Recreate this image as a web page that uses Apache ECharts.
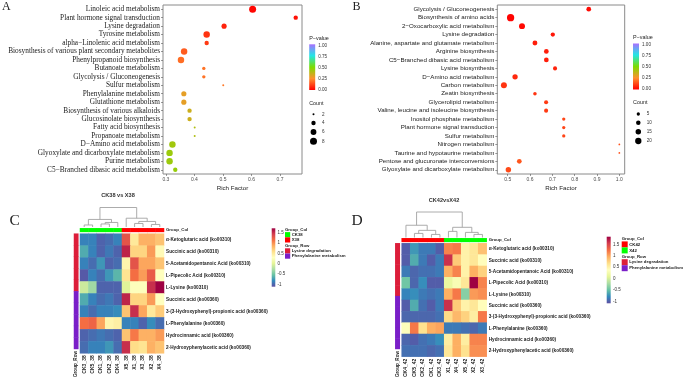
<!DOCTYPE html>
<html><head><meta charset="utf-8">
<script src="https://cdn.jsdelivr.net/npm/echarts@6/dist/echarts.min.js"></script>
<style>html,body{margin:0;padding:0;background:#fff}#c{width:685px;height:380px}</style>
</head><body><div id="c"></div>
<script>
// ---------------- Panel A (bubble) ----------------
const pathwaysA = ['Linoleic acid metabolism','Plant hormone signal transduction','Lysine degradation','Tyrosine metabolism','alpha\u2212Linolenic acid metabolism','Biosynthesis of various plant secondary metabolites','Phenylpropanoid biosynthesis','Butanoate metabolism','Glycolysis / Gluconeogenesis','Sulfur metabolism','Phenylalanine metabolism','Glutathione metabolism','Biosynthesis of various alkaloids','Glucosinolate biosynthesis','Fatty acid biosynthesis','Propanoate metabolism','D\u2212Amino acid metabolism','Glyoxylate and dicarboxylate metabolism','Purine metabolism','C5\u2212Branched dibasic acid metabolism'];
const richA  = [0.604,0.755,0.504,0.443,0.443,0.364,0.353,0.433,0.433,0.501,0.363,0.363,0.383,0.383,0.401,0.401,0.323,0.313,0.313,0.333];
const pvalA  = [0.01,0.03,0.06,0.09,0.10,0.16,0.19,0.20,0.20,0.21,0.30,0.30,0.35,0.35,0.40,0.40,0.43,0.44,0.44,0.45];
const countA = [8,4,5,7,4,7,7,3,3,2,5,5,4,4,2,2,7,7,7,4];
const richTicksA = [0.3,0.4,0.5,0.6,0.7];
const countLegendA = [2,4,6,8];

// ---------------- Panel B (bubble) ----------------
const pathwaysB = ['Glycolysis / Gluconeogenesis','Biosynthesis of amino acids','2\u2212Oxocarboxylic acid metabolism','Lysine degradation','Alanine, aspartate and glutamate metabolism','Arginine biosynthesis','C5\u2212Branched dibasic acid metabolism','Lysine biosynthesis','D\u2212Amino acid metabolism','Carbon metabolism','Zeatin biosynthesis','Glycerolipid metabolism','Valine, leucine and isoleucine biosynthesis','Inositol phosphate metabolism','Plant hormone signal transduction','Sulfur metabolism','Nitrogen metabolism','Taurine and hypotaurine metabolism','Pentose and glucuronate interconversions','Glyoxylate and dicarboxylate metabolism'];
const richB  = [0.863,0.513,0.564,0.702,0.622,0.673,0.673,0.712,0.533,0.483,0.622,0.672,0.672,0.751,0.751,0.751,1.0,1.0,0.552,0.503];
const pvalB  = [0.02,0.005,0.015,0.04,0.05,0.05,0.05,0.06,0.07,0.09,0.09,0.10,0.10,0.12,0.12,0.12,0.14,0.14,0.15,0.13];
const countB = [11,27,18,9,12,11,11,8,14,18,6,8,8,5,5,5,1,1,11,15];
const richTicksB = [0.5,0.6,0.7,0.8,0.9,1.0];
const countLegendB = [5,10,15,20];
const pTicks = [1.00,0.75,0.50,0.25,0.00];

// ---------------- Heatmaps C / D ----------------
const metabolites = ['\u03b1-Ketoglutaric acid (ko00310)','Succinic acid (ko00310)','5-Acetamidopentanoic Acid (ko00310)','L-Pipecolic Acid (ko00310)','L-Lysine (ko00310)','Succinic acid (ko00360)','3-(3-Hydroxyphenyl)-propionic acid (ko00360)','L-Phenylalanine (ko00360)','Hydrocinnamic acid (ko00360)','2-Hydroxyphenylacetic acid (ko00360)'];
const rowGroup = [0,0,0,0,0,1,1,1,1,1];
const rowGroupNames = ['Lysine degradation','Phenylalanine metabolism'];

const titleC = 'CK38 vs X38';
const colsC = ['CK3_38','CK5_38','CK1_38','CK2_38','CK4_38','X5_38','X1_38','X3_38','X2_38','X4_38'];
const colGroupC = [0,0,0,0,0,1,1,1,1,1];
const colGroupNamesC = ['CK38','X38'];
const valuesC = [
  [-0.85,-0.85,-1.00,-0.95,-0.85, 1.30,0.50,0.85,0.85,0.75],
  [-0.65,-0.85,-1.00,-0.90,-1.00, 1.55,0.65,0.65,0.95,0.35],
  [-0.85,-0.95,-0.75,-1.00,-0.95, 0.40,1.30,0.90,0.90,0.75],
  [-1.05,-0.85,-0.95,-0.75,-0.60, 0.55,1.15,0.95,1.25,0.30],
  [-0.10,-0.30,-1.00,-1.00,-1.00, 0.00,0.28,0.28,1.50,1.75],
  [-0.65,-0.85,-0.95,-0.90,-1.00, 1.55,0.65,0.65,0.95,0.30],
  [-0.85,-0.95,-0.85,-0.85,-0.80, 0.75,1.50,0.90,0.50,0.70],
  [ 1.15, 1.20, 0.90, 0.40, 0.45,-0.85,-0.85,-1.00,-0.80,-0.95],
  [-1.00,-0.95,-0.90,-0.95,-1.00, 0.75,1.10,0.85,0.85,0.95],
  [-0.95,-0.85,-0.85,-0.75,-0.95, 1.50,0.60,0.55,0.85,0.75]
];
const scaleRangeC = [-1.1, 1.71];
const dendroMergeC  = [[-1,-2],[-3,-4],[2,-5],[1,3],[-7,-8],[-9,-10],[5,6],[-6,7],[4,8]];
const dendroHeightC = [2.0,3.0,4.5,7.5,3.5,2.5,5.5,8.7,19.3];

const titleD = 'CK42vsX42';
const colsD = ['CK4_42','CK5_42','CK2_42','CK1_42','CK3_42','X1_42','X4_42','X5_42','X2_42','X3_42'];
const colGroupD = [0,0,0,0,0,1,1,1,1,1];
const colGroupNamesD = ['CK42','X42'];
const valuesD = [
  [-1.00,-0.70,-0.85,-0.85,-1.00, 1.15,1.20,0.50,0.60,0.85],
  [-1.00,-0.60,-0.85,-1.00,-0.85, 1.60,0.80,0.50,0.60,0.40],
  [-0.85,-0.95,-0.90,-0.90,-0.85, 0.95,1.15,0.50,0.95,0.75],
  [-0.45,-0.95,-0.75,-1.00,-1.00, 0.15,0.30,0.60,1.85,1.15],
  [-0.80,-0.75,-0.85,-0.90,-0.85, 0.95,1.20,-0.35,1.05,1.10],
  [-1.00,-0.60,-0.90,-1.00,-0.85, 1.60,0.80,0.50,0.60,0.40],
  [-0.95,-0.95,-0.95,-0.95,-0.90, 0.70,0.90,0.75,0.55,1.20],
  [ 0.35, 1.20, 0.65, 0.95, 1.00,-0.85,-0.85,-0.90,-0.95,-0.85],
  [-0.95,-1.00,-0.90,-0.85,-0.75, 0.55,0.95,0.55,1.15,1.15],
  [-0.90,-0.90,-0.90,-0.95,-0.90, 0.60,0.95,0.65,1.10,1.10]
];
const scaleRangeD = [-1.07, 1.83];
const dendroMergeD  = [[-2,-3],[-4,-5],[1,2],[-1,3],[-6,-7],[-9,-10],[-8,6],[5,7],[4,8]];
const dendroHeightD = [4.0,3.0,7.0,12.0,6.0,3.0,5.0,10.0,25.0];
const scaleTicks = [1.5,1,0.5,0,-0.5,-1];

// ---------------- styling ----------------
const SERIF = '"Liberation Serif", "Times New Roman", serif';
const SANS = '"Liberation Sans", Arial, sans-serif';
const pColors = ['#FF0000','#FF9030','#7CDC00','#22E6E6','#A870FF'];
const spectral = ['#5E4FA2','#3288BD','#66C2A5','#ABDDA4','#E6F598','#FFFFBF','#FEE08B','#FDAE61','#F46D43','#D53E4F','#9E0142'];
const colGroupColorsC = ['#00FF00','#FF0000'];
const colGroupColorsD = ['#FF0000','#00FF00'];
const rowGroupColors = ['#DC1E3A','#7A1FC8'];

function sizeA(c){ return Math.sqrt(Math.max(7.5*c - 11, 3)); }
function sizeB(c){ return Math.sqrt(1.92*c + 1.2); }

function buildDendro(merge, height){
  const nx = [], nh = [], segs = [];
  const pos = id => id < 0 ? [(-id) - 0.5, 0] : [nx[id-1], nh[id-1]];
  merge.forEach((m,k) => {
    const a = pos(m[0]), b = pos(m[1]), h = height[k];
    segs.push([a[0], b[0], a[1], b[1], h]);
    nx.push((a[0]+b[0])/2); nh.push(h);
  });
  return segs;
}
function dendroRender(params, api){
  const p1 = api.coord([api.value(0), api.value(2)]);
  const p2 = api.coord([api.value(0), api.value(4)]);
  const p3 = api.coord([api.value(1), api.value(4)]);
  const p4 = api.coord([api.value(1), api.value(3)]);
  return {type:'polyline', shape:{points:[p1,p2,p3,p4]}, style:{stroke:'#a3a3a3', lineWidth:0.9, fill:null}};
}
function cellRender(colors){
  return function(params, api){
    const c = api.coord([api.value(0), api.value(1)]);
    const s = api.size([1,1]);
    return {type:'rect', shape:{x:c[0]-s[0]/2-0.25, y:c[1]-s[1]/2-0.25, width:s[0]+0.5, height:s[1]+0.5}, style:{fill:colors[api.value(2)]}};
  };
}
function heatRender(params, api){
  const c = api.coord([api.value(0), api.value(1)]);
  const s = api.size([1,1]);
  return {type:'rect', shape:{x:c[0]-s[0]/2-0.25, y:c[1]-s[1]/2-0.25, width:s[0]+0.5, height:s[1]+0.5}, style:{fill:api.visual('color')}};
}
function heatData(vals){
  const d = [];
  vals.forEach((row,r) => row.forEach((v,c) => d.push([c, r, v])));
  return d;
}

const chart = echarts.init(document.getElementById('c'), null, {width:685, height:380});

const grids = [
  {left:163, top:5, width:139, height:169, show:true, borderColor:'#8a8a8a', borderWidth:1},
  {left:497.3, top:5, width:127.4, height:169, show:true, borderColor:'#8a8a8a', borderWidth:1},
  {left:80, top:233.7, width:84, height:119.6},
  {left:80, top:207.5, width:84, height:19.5},
  {left:80, top:228.3, width:84, height:3.6},
  {left:74, top:233.7, width:4.3, height:119.6},
  {left:401.7, top:243.3, width:85, height:118.4},
  {left:401.7, top:212, width:85, height:25.5},
  {left:401.7, top:238.3, width:85, height:3.6},
  {left:395.3, top:243.3, width:4.5, height:118.4}
];

function bubbleX(gi, min, max, ticks){
  return {type:'value', gridIndex:gi, min:min, max:max,
    axisLine:{show:false}, splitLine:{show:false},
    axisTick:{show:true, length:2, lineStyle:{color:'#555', width:0.6}, customValues:ticks},
    axisLabel:{fontSize:5, color:'#4d4d4d', margin:3, fontFamily:SANS, customValues:ticks, formatter:v=>v.toFixed(1)},
    name:'Rich Factor', nameLocation:'middle', nameGap:11.5, nameTextStyle:{fontSize:6.2, color:'#222', fontFamily:SANS}};
}
function bubbleY(gi, names, font, size){
  return {type:'category', gridIndex:gi, data:names, inverse:true,
    axisLine:{show:false}, splitLine:{show:false},
    axisTick:{show:true, length:2, alignWithLabel:true, lineStyle:{color:'#555', width:0.6}},
    axisLabel:{interval:0, fontSize:size, color:'#1a1a1a', fontFamily:font, margin:3}};
}
const hidden = (gi, extra) => Object.assign({gridIndex:gi, show:false}, extra);

const xAxes = [
  bubbleX(0, 0.29, 0.777, richTicksA),
  bubbleX(1, 0.4534, 1.024, richTicksB),
  {type:'category', gridIndex:2, data:colsC, axisLine:{show:false}, axisTick:{show:false},
    axisLabel:{interval:0, rotate:90, fontSize:5, fontWeight:'bold', color:'#222', fontFamily:SANS, margin:2}},
  hidden(3, {type:'value', min:0, max:10}),
  hidden(4, {type:'category', data:colsC}),
  {type:'category', gridIndex:5, data:['Group_Row'], axisLine:{show:false}, axisTick:{show:false},
    axisLabel:{interval:0, rotate:90, fontSize:4.6, fontWeight:'bold', color:'#222', fontFamily:SANS, margin:2}},
  {type:'category', gridIndex:6, data:colsD, axisLine:{show:false}, axisTick:{show:false},
    axisLabel:{interval:0, rotate:90, fontSize:5, fontWeight:'bold', color:'#222', fontFamily:SANS, margin:2}},
  hidden(7, {type:'value', min:0, max:10}),
  hidden(8, {type:'category', data:colsD}),
  {type:'category', gridIndex:9, data:['Group_Row'], axisLine:{show:false}, axisTick:{show:false},
    axisLabel:{interval:0, rotate:90, fontSize:4.6, fontWeight:'bold', color:'#222', fontFamily:SANS, margin:2}}
];
const heatY = (gi) => ({type:'category', gridIndex:gi, data:metabolites, inverse:true, position:'right',
    axisLine:{show:false}, axisTick:{show:false},
    axisLabel:{interval:0, fontSize:4.7, fontWeight:'bold', color:'#222', fontFamily:SANS, margin:2}});
const yAxes = [
  bubbleY(0, pathwaysA, SERIF, 7.3),
  bubbleY(1, pathwaysB, SANS, 6.2),
  heatY(2),
  hidden(3, {type:'value', min:0, max:dendroHeightC[dendroHeightC.length-1]}),
  {type:'category', gridIndex:4, data:['Group_Col'], position:'right', axisLine:{show:false}, axisTick:{show:false},
    axisLabel:{fontSize:4.3, fontWeight:'bold', color:'#222', fontFamily:SANS, margin:2}},
  hidden(5, {type:'category', data:metabolites, inverse:true}),
  heatY(6),
  hidden(7, {type:'value', min:0, max:dendroHeightD[dendroHeightD.length-1]}),
  {type:'category', gridIndex:8, data:['Group_Col'], position:'right', axisLine:{show:false}, axisTick:{show:false},
    axisLabel:{fontSize:4.3, fontWeight:'bold', color:'#222', fontFamily:SANS, margin:2}},
  hidden(9, {type:'category', data:metabolites, inverse:true})
];

const series = [
  {type:'scatter', xAxisIndex:0, yAxisIndex:0, data:pathwaysA.map((p,i)=>[richA[i], i, pvalA[i], countA[i]]),
    symbolSize:v=>sizeA(v[3]), itemStyle:{opacity:1}},
  {type:'scatter', xAxisIndex:1, yAxisIndex:1, data:pathwaysB.map((p,i)=>[richB[i], i, pvalB[i], countB[i]]),
    symbolSize:v=>sizeB(v[3]), itemStyle:{opacity:1}},
  {type:'custom', xAxisIndex:2, yAxisIndex:2, data:heatData(valuesC), renderItem:heatRender, encode:{x:0, y:1}},
  {type:'custom', xAxisIndex:6, yAxisIndex:6, data:heatData(valuesD), renderItem:heatRender, encode:{x:0, y:1}},
  {type:'custom', xAxisIndex:3, yAxisIndex:3, data:buildDendro(dendroMergeC, dendroHeightC), renderItem:dendroRender, encode:{x:[0,1], y:[2,3,4]}, clip:false},
  {type:'custom', xAxisIndex:7, yAxisIndex:7, data:buildDendro(dendroMergeD, dendroHeightD), renderItem:dendroRender, encode:{x:[0,1], y:[2,3,4]}, clip:false},
  {type:'custom', xAxisIndex:4, yAxisIndex:4, data:colGroupC.map((g,i)=>[i,0,g]), renderItem:cellRender(colGroupColorsC)},
  {type:'custom', xAxisIndex:5, yAxisIndex:5, data:rowGroup.map((g,r)=>[0,r,g]), renderItem:cellRender(rowGroupColors)},
  {type:'custom', xAxisIndex:8, yAxisIndex:8, data:colGroupD.map((g,i)=>[i,0,g]), renderItem:cellRender(colGroupColorsD)},
  {type:'custom', xAxisIndex:9, yAxisIndex:9, data:rowGroup.map((g,r)=>[0,r,g]), renderItem:cellRender(rowGroupColors)}
];

const visualMap = [
  {type:'continuous', show:false, seriesIndex:0, dimension:2, min:0, max:1, inRange:{color:pColors}},
  {type:'continuous', show:false, seriesIndex:1, dimension:2, min:0, max:1, inRange:{color:pColors}},
  {type:'continuous', show:false, seriesIndex:2, dimension:2, min:scaleRangeC[0], max:scaleRangeC[1], inRange:{color:spectral}},
  {type:'continuous', show:false, seriesIndex:3, dimension:2, min:scaleRangeD[0], max:scaleRangeD[1], inRange:{color:spectral}}
];

const G = [];
const txt = (x,y,t,size,opt) => G.push(Object.assign({type:'text', x:x, y:y, silent:true,
  style:Object.assign({text:t, fontSize:size, fontFamily:SANS, fill:'#222', align:'left', verticalAlign:'middle'}, (opt||{}))}));
const grad = (stops) => new echarts.graphic.LinearGradient(0,0,0,1, stops.map((c,i)=>({offset:i/(stops.length-1), color:c})));

txt(2, 7, 'A', 12, {fontFamily:SERIF});
txt(352.5, 6.5, 'B', 12, {fontFamily:SERIF});
txt(9.5, 220.5, 'C', 15.5, {fontFamily:SERIF});
txt(351.5, 220.5, 'D', 15.5, {fontFamily:SERIF});
txt(118, 195, titleC, 5.6, {align:'center', fontWeight:'bold', fill:'#333'});
txt(444, 200, titleD, 5.6, {align:'center', fontWeight:'bold', fill:'#333'});

function pLegend(x, top, bottom, v1y, v0y, cx, countYs, counts, sizeFn, cTitleY){
  txt(x, top-5.5, 'P\u2212value', 5.4);
  G.push({type:'rect', shape:{x:x, y:top, width:6, height:bottom-top}, style:{fill:grad(pColors.slice().reverse())}, silent:true});
  pTicks.forEach(v => txt(x+9, v1y + (1-v)*(v0y-v1y), v.toFixed(2), 4.6, {fill:'#333'}));
  txt(x, cTitleY, 'Count', 5.4);
  counts.forEach((c,i) => {
    G.push({type:'circle', shape:{cx:cx, cy:countYs[i], r:sizeFn(c)/2}, style:{fill:'#000'}, silent:true});
    txt(cx+8.5, countYs[i], String(c), 4.6, {fill:'#333'});
  });
}
pLegend(309.2, 44.3, 90, 46, 89.3, 313.5, [114.3,123,132,141.3], countLegendA, sizeA, 104);
pLegend(633, 43.5, 89.5, 45, 88.8, 638.3, [114,122.7,131.7,141], countLegendB, sizeB, 103);

function heatLegend(bx, btop, bh, bw, range, gx, gy, box, names, colors){
  G.push({type:'rect', shape:{x:bx, y:btop, width:bw, height:bh}, style:{fill:grad(spectral.slice().reverse())}, silent:true});
  scaleTicks.forEach(v => txt(bx+bw+2.2, btop + (range[1]-v)/(range[1]-range[0])*bh, String(v), 4.5, {fill:'#333'}));
  txt(gx, gy, 'Group_Col', 4.3, {fontWeight:'bold'});
  names.forEach((n,i) => {
    const y = gy + 2.6 + i*box;
    G.push({type:'rect', shape:{x:gx, y:y, width:box, height:box}, style:{fill:colors[i]}, silent:true});
    txt(gx+box+1.5, y+box/2, n, 4.3, {fontWeight:'bold'});
  });
  const ry = gy + 2.6 + 2*box + 3.2;
  txt(gx, ry, 'Group_Row', 4.3, {fontWeight:'bold'});
  rowGroupNames.forEach((n,i) => {
    const y = ry + 2.6 + i*box;
    G.push({type:'rect', shape:{x:gx, y:y, width:box, height:box}, style:{fill:rowGroupColors[i]}, silent:true});
    txt(gx+box+1.5, y+box/2, n, 4.3, {fontWeight:'bold'});
  });
}
heatLegend(271.7, 228.3, 58.4, 3.6, scaleRangeC, 285, 229.5, 5.2, colGroupNamesC, colGroupColorsC);
heatLegend(606.7, 236.7, 66.6, 4, scaleRangeD, 621.7, 238.8, 6, colGroupNamesD, colGroupColorsD);

chart.setOption({
  animation:false,
  backgroundColor:'#ffffff',
  grid:grids, xAxis:xAxes, yAxis:yAxes, series:series, visualMap:visualMap, graphic:G
});
</script>
</body></html>
